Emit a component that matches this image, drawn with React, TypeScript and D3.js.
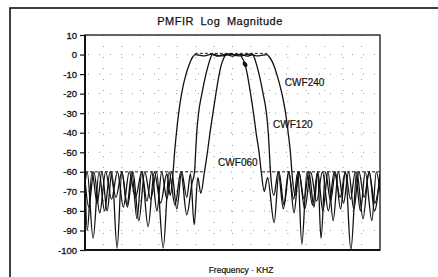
import { useEffect, useRef } from 'react'
import * as d3 from 'd3'

// dB tick values on the left axis
const yTicks = [10, 0, -10, -20, -30, -40, -50, -60, -70, -80, -90, -100]
// vertical dotted grid, kHz
const freqGrid = [0.5, 1, 1.5, 2, 2.5, 3, 3.5, 4, 4.5, 5, 5.5, 6, 6.5, 7, 7.5]

// [frequency kHz, magnitude dB]
const cwf240: [number, number][] = [
    [0.00, -64], [0.10, -78], [0.24, -60], [0.40, -81], [0.56, -60], [0.72, -74], [0.88, -60], [1.04, -78],
    [1.20, -60], [1.37, -73], [1.54, -60], [1.71, -88], [1.88, -60], [2.05, -76], [2.22, -61], [2.31, -72],
    [2.39, -60], [2.43, -50], [2.48, -40], [2.54, -30], [2.62, -20], [2.74, -10], [2.81, -6], [2.87, -3],
    [2.93, -1], [2.98, 0], [3.20, -0.7], [3.45, 0.2], [3.70, -0.7], [3.95, 0.2], [4.20, -0.7], [4.45, 0.2],
    [4.70, -0.7], [4.94, 0], [4.99, -1], [5.06, -3], [5.13, -6], [5.20, -10], [5.34, -20], [5.44, -30],
    [5.51, -40], [5.57, -50], [5.61, -60], [5.70, -72], [5.80, -60], [5.96, -79], [6.12, -60], [6.28, -75],
    [6.44, -60], [6.60, -80], [6.76, -60], [6.92, -73], [7.06, -60], [7.21, -100], [7.37, -60], [7.54, -84],
    [7.70, -60], [7.86, -76], [8.00, -63],
]

const cwf120: [number, number][] = [
    [0.00, -66], [0.06, -60], [0.22, -94], [0.38, -60], [0.53, -80], [0.68, -60], [0.84, -73], [1.00, -60],
    [1.15, -78], [1.30, -60], [1.46, -85], [1.62, -60], [1.78, -74], [1.94, -60], [2.12, -99], [2.28, -60],
    [2.44, -77], [2.60, -60], [2.76, -82], [2.90, -66], [2.97, -60], [3.00, -50], [3.03, -40], [3.08, -30],
    [3.17, -20], [3.28, -10], [3.35, -5], [3.40, -2], [3.45, 0], [3.60, -0.8], [3.80, 0.1], [4.00, -0.8],
    [4.20, 0.1], [4.40, -0.8], [4.55, 0], [4.60, -2], [4.65, -5], [4.72, -10], [4.83, -20], [4.92, -30],
    [4.97, -40], [5.00, -50], [5.03, -60], [5.12, -72], [5.24, -60], [5.38, -79], [5.52, -60], [5.66, -74],
    [5.77, -60], [5.88, -97], [6.02, -60], [6.17, -77], [6.31, -60], [6.45, -80], [6.59, -60], [6.73, -85],
    [6.87, -60], [7.01, -76], [7.15, -60], [7.29, -79], [7.43, -60], [7.57, -73], [7.71, -60], [7.85, -80],
    [8.00, -61],
]

const cwf060: [number, number][] = [
    [0.00, -62], [0.06, -90], [0.19, -60], [0.33, -76], [0.46, -60], [0.60, -80], [0.73, -60], [0.87, -99],
    [1.00, -60], [1.14, -77], [1.27, -60], [1.41, -84], [1.54, -60], [1.68, -75], [1.81, -60], [1.95, -80],
    [2.08, -60], [2.22, -74], [2.35, -60], [2.49, -79], [2.62, -60], [2.76, -73], [2.86, -61], [2.96, -87],
    [3.06, -63], [3.14, -71], [3.24, -60], [3.32, -50], [3.39, -40], [3.47, -30], [3.55, -20], [3.64, -10],
    [3.70, -5], [3.76, -2], [3.82, 0], [3.95, 0.3], [4.08, -0.2], [4.20, 0], [4.27, -2], [4.34, -5],
    [4.40, -10], [4.49, -20], [4.57, -30], [4.64, -40], [4.72, -50], [4.78, -60], [4.86, -70], [4.95, -63],
    [5.13, -86], [5.26, -60], [5.40, -77], [5.53, -60], [5.67, -81], [5.80, -60], [5.94, -74], [6.07, -60],
    [6.21, -78], [6.31, -60], [6.40, -94], [6.52, -60], [6.66, -75], [6.79, -60], [6.93, -79], [7.06, -60],
    [7.20, -74], [7.33, -60], [7.47, -80], [7.60, -60], [7.78, -85], [7.90, -60], [8.00, -70],
]

// dashed spec lines
const stopSpecLevel = -60
const stopSpec: [number, number][] = [[0, 3.24], [4.80, 8]]
const passSpecLevel = 0.6
const passSpec: [number, number] = [2.98, 4.94]

const curveLabels = [
    { name: 'CWF240', f: 5.42, db: -16.1 },
    { name: 'CWF120', f: 5.10, db: -37.6 },
    { name: 'CWF060', f: 3.61, db: -57.0 },
]
const marker: [number, number] = [4.34, -5]

export default function App() {
    const svgRef = useRef<SVGSVGElement>(null)

    useEffect(() => {
        if (!svgRef.current) return
        const svg = d3.select(svgRef.current)
        svg.selectAll('*').remove()

        const font = '"Liberation Sans", Arial, sans-serif'
        const x = d3.scaleLinear().domain([0, 8]).range([85, 380])
        const y = d3.scaleLinear().domain([-100, 10]).range([250, 35])

        svg.append('rect').attr('width', 438).attr('height', 277).attr('fill', '#fff')

        // outer frame (runs off the right and bottom of the picture)
        svg.append('rect')
            .attr('x', 10).attr('y', 8).attr('width', 440).attr('height', 290)
            .attr('fill', 'none').attr('stroke', '#111').attr('stroke-width', 1.6)

        svg.append('text')
            .attr('x', 220).attr('y', 25)
            .attr('text-anchor', 'middle')
            .style('font-family', font).style('font-size', '11px')
            .style('letter-spacing', '0.5px').style('word-spacing', '3px')
            .attr('fill', '#111').attr('stroke', '#111').attr('stroke-width', 0.25)
            .text('PMFIR Log Magnitude')

        // grid, very sparse dots
        const grid = svg.append('g').attr('stroke', '#9a9a9a').attr('stroke-width', 1)
            .attr('stroke-dasharray', '1,10')
        grid.selectAll('.vg').data(freqGrid).enter().append('line')
            .attr('x1', d => x(d)).attr('x2', d => x(d))
            .attr('y1', y(10)).attr('y2', y(-100))
        grid.selectAll('.hg').data(yTicks.slice(1, -1)).enter().append('line')
            .attr('x1', x(0) + 3).attr('x2', x(8))
            .attr('y1', d => y(d)).attr('y2', d => y(d))

        // y axis
        const yAxis = svg.append('g')
            .attr('transform', `translate(${x(0)},0)`)
            .call(d3.axisLeft(y).tickValues(yTicks).tickSize(5).tickPadding(3).tickFormat(d => String(d)))
        yAxis.select('.domain').remove()
        yAxis.selectAll('line').attr('stroke', '#111').attr('stroke-width', 1.2)
        yAxis.selectAll('text')
            .style('font-family', font).style('font-size', '9.5px')
            .attr('fill', '#111').attr('stroke', '#111').attr('stroke-width', 0.3)

        // spec lines
        const spec = svg.append('g').attr('stroke', '#222').attr('stroke-width', 1)
            .attr('stroke-dasharray', '3,2')
        spec.selectAll('.stop').data(stopSpec).enter().append('line')
            .attr('x1', d => x(d[0])).attr('x2', d => x(d[1]))
            .attr('y1', y(stopSpecLevel)).attr('y2', y(stopSpecLevel))
        spec.append('line')
            .attr('x1', x(passSpec[0])).attr('x2', x(passSpec[1]))
            .attr('y1', y(passSpecLevel)).attr('y2', y(passSpecLevel))

        // response curves
        const line = d3.line<[number, number]>()
            .x(d => x(d[0]))
            .y(d => y(d[1]))
            .curve(d3.curveMonotoneX)
        const clip = svg.append('clipPath').attr('id', 'plotclip')
        clip.append('rect').attr('x', x(0)).attr('y', y(10)).attr('width', x(8) - x(0)).attr('height', y(-100) - y(10))
        const curves = svg.append('g').attr('clip-path', 'url(#plotclip)')
        curves.selectAll('path').data([cwf240, cwf120, cwf060]).enter().append('path')
            .attr('d', d => line(d))
            .attr('fill', 'none')
            .attr('stroke', '#111')
            .attr('stroke-width', 1.3)
            .attr('stroke-linejoin', 'round')

        svg.append('ellipse')
            .attr('cx', x(marker[0])).attr('cy', y(marker[1]))
            .attr('rx', 2).attr('ry', 3)
            .attr('transform', `rotate(-30,${x(marker[0])},${y(marker[1])})`)
            .attr('fill', '#111')

        svg.selectAll('.clabel').data(curveLabels).enter().append('text')
            .attr('x', d => x(d.f)).attr('y', d => y(d.db))
            .style('font-family', font).style('font-size', '10px')
            .attr('fill', '#111').attr('stroke', '#111').attr('stroke-width', 0.2)
            .text(d => d.name)

        // plot frame
        svg.append('rect')
            .attr('x', x(0)).attr('y', y(10))
            .attr('width', x(8) - x(0)).attr('height', y(-100) - y(10))
            .attr('fill', 'none').attr('stroke', '#111').attr('stroke-width', 1.3)
        svg.append('line')
            .attr('x1', x(0)).attr('x2', x(0)).attr('y1', y(10)).attr('y2', y(-100))
            .attr('stroke', '#111').attr('stroke-width', 2)
        svg.append('line')
            .attr('x1', x(0)).attr('x2', x(8)).attr('y1', y(-100)).attr('y2', y(-100))
            .attr('stroke', '#111').attr('stroke-width', 2)

        svg.append('text')
            .attr('x', 241).attr('y', 273)
            .attr('text-anchor', 'middle')
            .style('font-family', font).style('font-size', '8.5px')
            .attr('fill', '#111').attr('stroke', '#111').attr('stroke-width', 0.2)
            .text('Frequency · KHZ')
    }, [])

    return (
        <div style={{ position: 'absolute', left: 0, top: 0 }}>
            <svg ref={svgRef} width={438} height={277} style={{ display: 'block' }}></svg>
        </div>
    )
}
